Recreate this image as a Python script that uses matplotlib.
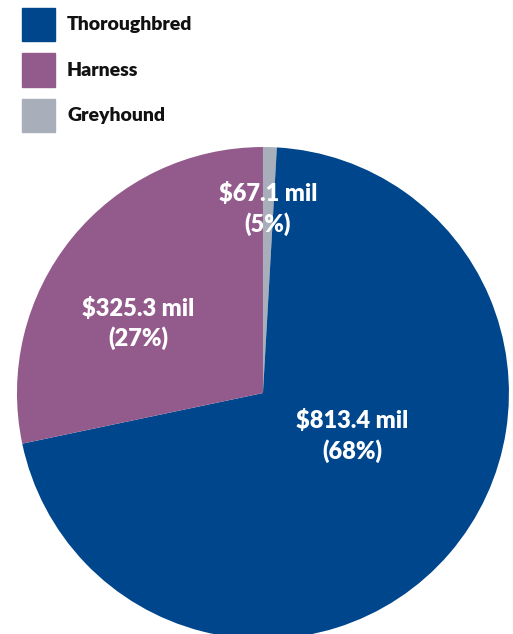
import matplotlib.pyplot as plt
from matplotlib.patches import Rectangle

# data
categories = ["Thoroughbred", "Harness", "Greyhound"]
amounts = ["$813.4 mil", "$325.3 mil", "$67.1 mil"]
percents = ["(68%)", "(27%)", "(5%)"]
# wedge sizes as drawn in the picture (percent of circle)
drawn_shares = [70.8, 28.3, 0.9]
colors = ["#00468C", "#935A8C", "#A8AFBA"]

plt.rcParams['font.family'] = ['Lato', 'DejaVu Sans']

fig = plt.figure(figsize=(5.13, 6.34), dpi=100)

# pie axes (bottom of the circle runs off the figure)
ax = fig.add_axes([0.0331, -0.0079, 0.959, 0.776])
# draw greyhound first so it starts at 12 o'clock, then clockwise
order = [2, 0, 1]
ax.pie([drawn_shares[i] for i in order], colors=[colors[i] for i in order],
       startangle=90, counterclock=False, radius=1.0,
       wedgeprops=dict(linewidth=0))
ax.set_xlim(-1, 1)
ax.set_ylim(-1, 1)
ax.set_aspect('equal')
ax.axis('off')

# labels inside the pie
label_pos = [(0.362, -0.175), (-0.508, 0.283), (0.02, 0.748)]
for (x, y), amt, pct in zip(label_pos, amounts, percents):
    ax.text(x, y, amt + "\n" + pct, ha='center', va='center', color='white',
            fontsize=17, fontweight='heavy', linespacing=1.35)

# legend: coloured squares with bold labels
sq_w = 33 / 513
sq_h = 33 / 634
for i, (name, c) in enumerate(zip(categories, colors)):
    top = 8 + i * 45.5
    y0 = 1 - (top + 33) / 634
    fig.patches.append(Rectangle((22 / 513, y0), sq_w, sq_h, color=c,
                                 transform=fig.transFigure))
    fig.text(67 / 513, y0 + sq_h / 2, name, ha='left', va='center',
             fontsize=14, fontweight='heavy', color='#111111')

plt.savefig("out.png", dpi=100)
